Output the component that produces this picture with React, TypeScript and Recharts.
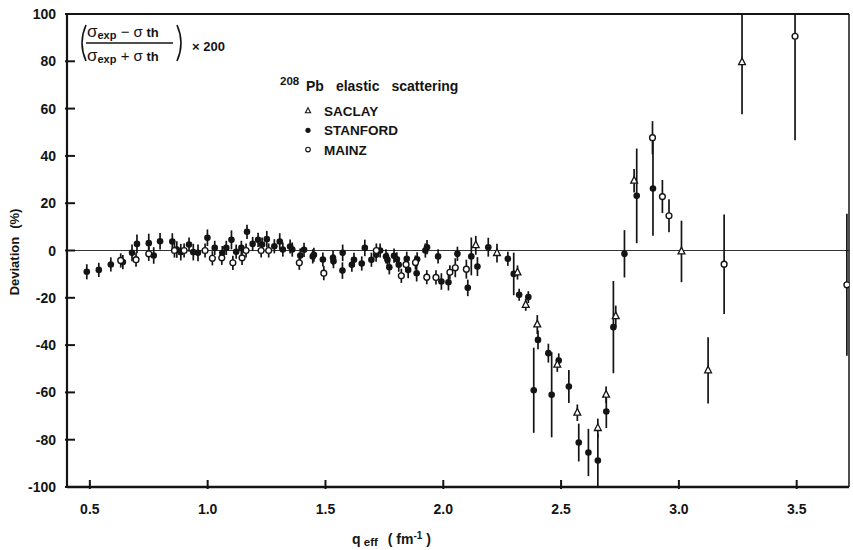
import React from 'react';
import {
  ScatterChart,
  Scatter,
  XAxis,
  YAxis,
  ErrorBar,
  ReferenceLine,
  Legend,
} from 'recharts';

const ink = '#141414';
const font = '"Liberation Sans", Arial, sans-serif';

const xTicks = [0.5, 1.0, 1.5, 2.0, 2.5, 3.0, 3.5];
const yTicks = [-100, -80, -60, -40, -20, 0, 20, 40, 60, 80, 100];
const xDomain = [0.403, 3.722];
const yDomain = [-100, 100];

// [q_eff, deviation %, error down, error up (if different)]
const stanfordPoints = [
  [0.487, -9.0, 3.2], [0.538, -8.2, 3], [0.589, -5.9, 3], [0.640, -4.9, 3],
  [0.679, -1.0, 3.5], [0.700, 2.8, 4], [0.750, 3.1, 4], [0.771, -2.1, 3.5],
  [0.798, 3.9, 3.5], [0.850, 3.8, 3.5], [0.869, 0.4, 3.5], [0.886, -0.7, 3.5],
  [0.921, 2.5, 3], [0.939, -0.7, 3.5], [0.959, -1.0, 3.5], [0.999, 5.4, 3.5],
  [1.030, 1.1, 3], [1.062, -1.1, 3], [1.079, 1.1, 3], [1.101, 4.5, 4],
  [1.121, -0.5, 3], [1.143, 1.1, 3], [1.167, 7.9, 3], [1.191, 2.8, 3],
  [1.214, 4.5, 3], [1.231, 2.5, 3], [1.251, 4.8, 3.5], [1.283, 1.8, 3],
  [1.306, 3.8, 3.5], [1.319, 0.4, 3], [1.350, 1.7, 3], [1.359, 0.4, 3],
  [1.393, -2.1, 3], [1.409, 0.3, 3], [1.446, -2.5, 3], [1.451, -1.8, 3],
  [1.489, -3.8, 3], [1.532, -3.1, 3], [1.534, -4.5, 3], [1.573, -1.0, 3.5],
  [1.572, -8.5, 3.5], [1.612, -6.0, 3], [1.621, -3.9, 3], [1.654, -5.5, 3],
  [1.667, 1.1, 3.5], [1.695, -3.9, 3], [1.715, -1.8, 3], [1.732, 0, 3],
  [1.757, -2.5, 3], [1.763, -3.9, 3], [1.771, -7.1, 3], [1.791, -2.2, 3],
  [1.803, -3.7, 3], [1.811, -6.0, 3], [1.845, -3.5, 3], [1.851, -8.2, 3.5],
  [1.889, -3.7, 3], [1.887, -9.6, 3.5], [1.924, 0, 3], [1.931, 1.4, 3],
  [1.978, -2.5, 3], [1.992, -13.1, 3.5], [2.022, -13.4, 3.5], [2.060, -1.4, 3],
  [2.104, -15.8, 3.5], [2.119, -2.5, 8], [2.145, -6.8, 4], [2.191, 1.4, 4],
  [2.274, -3.5, 3], [2.299, -9.9, 9], [2.322, -18.7, 2.5], [2.361, -19.7, 2.5],
  [2.384, -59.1, 18], [2.402, -37.8, 4], [2.446, -43.4, 4], [2.460, -61.0, 18],
  [2.490, -46.5, 3], [2.533, -57.5, 7], [2.575, -81.2, 8], [2.616, -85.4, 10],
  [2.656, -88.8, 11.2], [2.692, -68.1, 7], [2.722, -32.4, 19.5], [2.769, -1.4, 10],
  [2.821, 23.1, 20], [2.890, 26.2, 20],
];

const mainzPoints = [
  [0.631, -4.2, 3], [0.696, -3.9, 3], [0.750, -1.4, 3], [0.859, 0, 3],
  [0.900, 0, 3], [0.989, 0, 3], [1.020, -3.3, 3], [1.060, -3.1, 3],
  [1.107, -5.2, 3], [1.146, -3.1, 3], [1.163, 0, 3], [1.227, 0, 3],
  [1.259, 0, 3], [1.389, -5.2, 3], [1.493, -9.6, 3], [1.716, 0, 3],
  [1.822, -10.7, 3], [1.842, -5.9, 3], [1.882, -5.1, 3], [1.930, -11.3, 3],
  [1.969, -11.4, 3], [2.028, -9.2, 3], [2.051, -7.3, 4], [2.098, -7.9, 4],
  [2.888, 47.7, 7], [2.930, 22.8, 7], [2.958, 14.7, 7], [3.192, -5.8, 21],
  [3.493, 90.6, 44, 9.4], [3.713, -14.5, 30],
];

const saclayPoints = [
  [2.138, 2.2, 4], [2.228, -1.1, 4], [2.315, -9.3, 3], [2.350, -23.0, 2.5],
  [2.399, -31.3, 4], [2.484, -48.3, 3], [2.569, -68.6, 3.5], [2.656, -75.1, 4],
  [2.691, -61.0, 3.5], [2.732, -27.8, 4.5], [2.810, 29.5, 5], [3.011, -0.4, 13],
  [3.124, -50.7, 14], [3.268, 79.6, 22, 20.4],
];

const toRows = (pts: number[][]) =>
  pts.map(([q, v, lo, hi]) => ({ q, v, err: [lo, hi ?? lo] }));

const FilledDot = (props: any) => (
  <circle cx={props.cx} cy={props.cy} r={3.3} fill={ink} />
);
const OpenDot = (props: any) => (
  <circle cx={props.cx} cy={props.cy} r={2.9} fill="#fff" stroke={ink} strokeWidth={1.4} />
);
const OpenTriangle = (props: any) => {
  const { cx, cy } = props;
  return (
    <polygon
      points={`${cx},${cy - 4.3} ${cx - 3.4},${cy + 2.4} ${cx + 3.4},${cy + 2.4}`}
      fill="#fff"
      stroke={ink}
      strokeWidth={1.3}
    />
  );
};

// axis ticks point inward, so the marks are drawn by the tick renderers
const YTick = (props: any) => {
  const x = Number(props.x);
  const y = Number(props.y);
  return (
    <g>
      <path d={`M${x},${y}H${x + 10}`} stroke={ink} strokeWidth={2} fill="none" />
      <text x={x - 9} y={y + 5} textAnchor="end" fontFamily={font} fontSize={14} fontWeight="bold" fill={ink}>
        {props.payload.value}
      </text>
    </g>
  );
};

const XTick = (props: any) => {
  const x = Number(props.x);
  const y = Number(props.y);
  return (
    <g>
      <path d={`M${x},${y}V${y - 9}`} stroke={ink} strokeWidth={2} fill="none" />
      <text x={x} y={y + 25} textAnchor="middle" fontFamily={font} fontSize={14} fontWeight="bold" fill={ink}>
        {props.payload.value.toFixed(1)}
      </text>
    </g>
  );
};

const legendItems = [
  { name: 'SACLAY', shape: 'tri' },
  { name: 'STANFORD', shape: 'dot' },
  { name: 'MAINZ', shape: 'ring' },
];

const renderLegend = () => (
  <svg width={140} height={64}>
    {legendItems.map((item, i) => {
      const cy = 13 + i * 19.3;
      return (
        <g key={item.name}>
          {item.shape === 'tri' && (
            <polygon points={`12,${cy - 3.2} 9.4,${cy + 1.8} 14.6,${cy + 1.8}`} fill="#fff" stroke={ink} strokeWidth={1.1} />
          )}
          {item.shape === 'dot' && <circle cx={12} cy={cy} r={2.6} fill={ink} />}
          {item.shape === 'ring' && <circle cx={12} cy={cy} r={2.3} fill="#fff" stroke={ink} strokeWidth={1.1} />}
          <text x={28} y={cy + 5} fontFamily={font} fontSize={13.5} fontWeight="bold" fill={ink}>
            {item.name}
          </text>
        </g>
      );
    })}
  </svg>
);

const Annotations = () => (
  <svg width={853} height={550} style={{ position: 'absolute', left: 0, top: 0, pointerEvents: 'none' }}>
    <g fontFamily={font} fill={ink} fontWeight="bold">
      {/* formula */}
      <path d="M86 25 Q78 43 86 61" fill="none" stroke={ink} strokeWidth={1.6} />
      <text x={87} y={37} fontSize={17} fontWeight="normal">
        σ<tspan fontSize={11} fontWeight="bold" dy={2}>exp</tspan>
        <tspan fontSize={15} dy={-2}> − σ</tspan>
        <tspan fontSize={13} fontWeight="bold"> th</tspan>
      </text>
      <line x1={86} y1={43} x2={173} y2={43} stroke={ink} strokeWidth={1.6} />
      <text x={87} y={61} fontSize={17} fontWeight="normal">
        σ<tspan fontSize={11} fontWeight="bold" dy={2}>exp</tspan>
        <tspan fontSize={15} dy={-2}> + σ</tspan>
        <tspan fontSize={13} fontWeight="bold"> th</tspan>
      </text>
      <path d="M177 25 Q185 43 177 61" fill="none" stroke={ink} strokeWidth={1.6} />
      <text x={192} y={51} fontSize={13}>× 200</text>

      {/* title */}
      <text x={280} y={85} fontSize={11.5}>208</text>
      <text x={306} y={91} fontSize={14}>
        Pb<tspan dx={12}>elastic</tspan><tspan dx={12}>scattering</tspan>
      </text>

      {/* axis titles */}
      <text x={19} y={252} fontSize={13} textAnchor="middle" transform="rotate(-90 19 252)">
        Deviation<tspan dx={8}>(%)</tspan>
      </text>
      <text x={352} y={544} fontSize={14}>
        q<tspan fontSize={11.5} dy={2}> eff</tspan>
        <tspan fontSize={14} dy={-2} dx={10}>( fm</tspan>
        <tspan fontSize={10} dy={-5}>-1</tspan>
        <tspan fontSize={14} dy={5}> )</tspan>
      </text>
    </g>
  </svg>
);

const App = () => {
  const barStyle = { stroke: ink, strokeWidth: 1.7 };
  return (
    <div style={{ position: 'absolute', left: 0, top: 0, width: 853, height: 550, background: '#fff' }}>
      <ScatterChart width={853} height={550} margin={{ top: 14, right: 4, bottom: 0, left: 0 }}>
        <XAxis
          type="number"
          dataKey="q"
          domain={xDomain}
          ticks={xTicks}
          interval={0}
          allowDataOverflow
          height={63}
          tickSize={0}
          tickLine={false}
          tick={<XTick />}
          axisLine={{ stroke: ink, strokeWidth: 2.6 }}
        />
        <YAxis
          type="number"
          dataKey="v"
          domain={yDomain}
          ticks={yTicks}
          interval={0}
          allowDataOverflow
          width={67}
          tickSize={0}
          tickLine={false}
          tick={<YTick />}
          axisLine={{ stroke: ink, strokeWidth: 2.2 }}
        />
        <ReferenceLine y={0} stroke="#333" strokeWidth={1} />
        <ReferenceLine y={100} stroke={ink} strokeWidth={2} />
        <ReferenceLine x={xDomain[1]} stroke={ink} strokeWidth={1.5} />
        <Scatter name="STANFORD" data={toRows(stanfordPoints)} shape={<FilledDot />} isAnimationActive={false}>
          <ErrorBar dataKey="err" direction="y" width={0} {...barStyle} isAnimationActive={false} />
        </Scatter>
        <Scatter name="MAINZ" data={toRows(mainzPoints)} shape={<OpenDot />} isAnimationActive={false}>
          <ErrorBar dataKey="err" direction="y" width={0} {...barStyle} isAnimationActive={false} />
        </Scatter>
        <Scatter name="SACLAY" data={toRows(saclayPoints)} shape={<OpenTriangle />} isAnimationActive={false}>
          <ErrorBar dataKey="err" direction="y" width={0} {...barStyle} isAnimationActive={false} />
        </Scatter>
        <Legend
          layout="vertical"
          align="center"
          verticalAlign="middle"
          content={renderLegend}
          wrapperStyle={{ left: 296, top: 98, width: 140, height: 64 }}
        />
      </ScatterChart>
      <Annotations />
    </div>
  );
};

export default App;
